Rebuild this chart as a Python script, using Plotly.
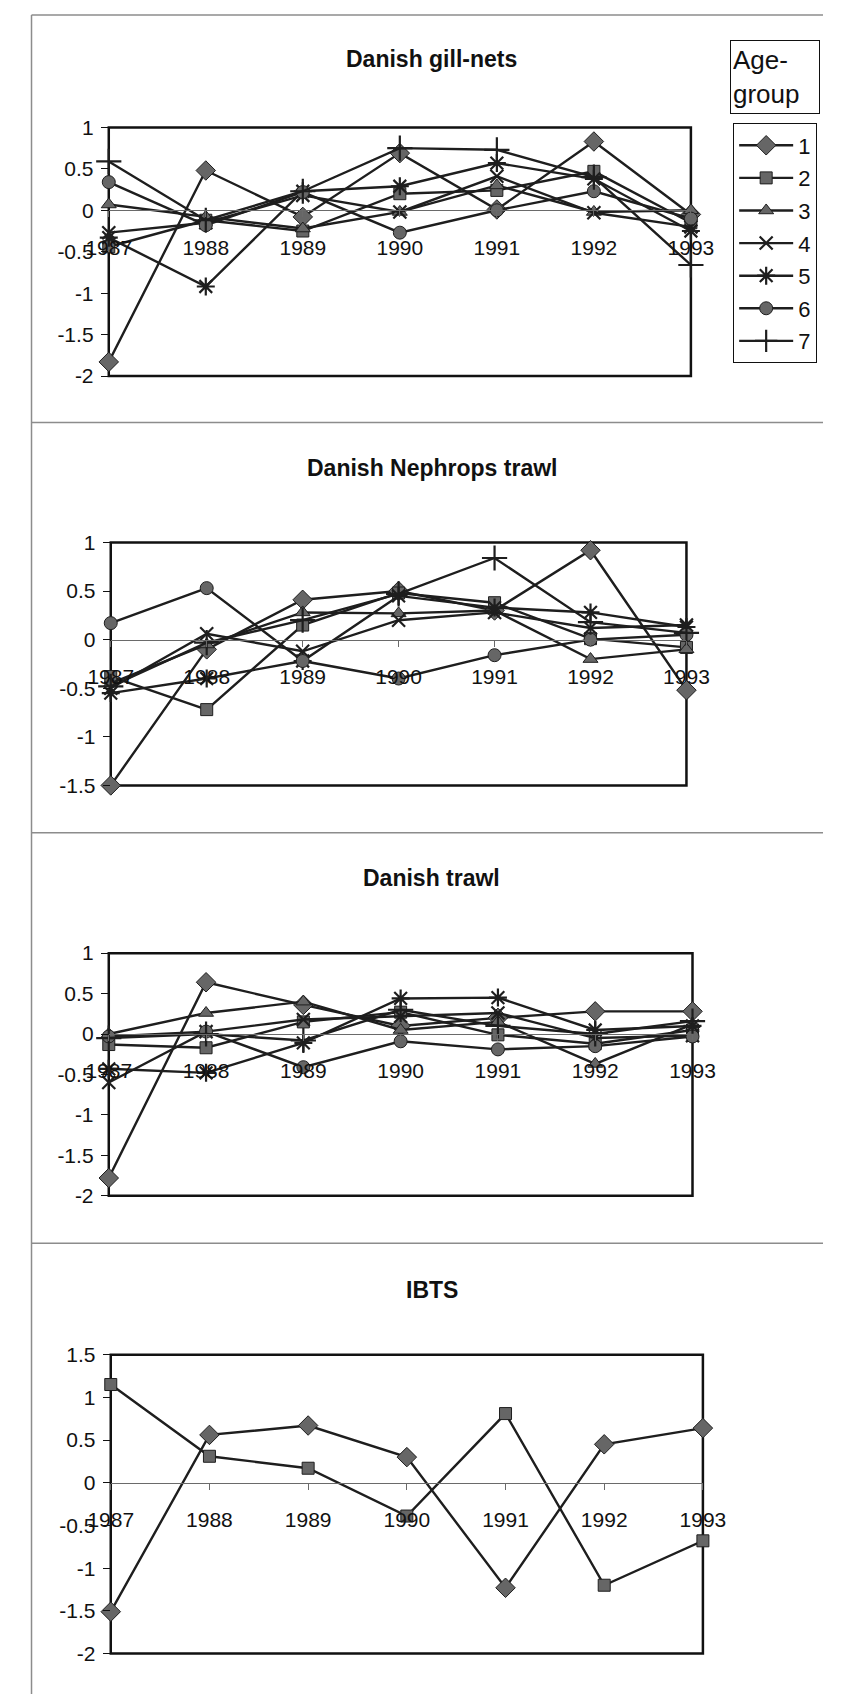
import plotly.graph_objects as go

# ---------------- data ----------------
years = [1987, 1988, 1989, 1990, 1991, 1992, 1993]
age_groups = ["1", "2", "3", "4", "5", "6", "7"]

# Danish gill-nets, log residuals by age group
gill_1 = [-1.83, 0.48, -0.08, 0.69, 0.01, 0.83, -0.05]
gill_2 = [-0.44, -0.12, -0.25, 0.20, 0.24, 0.47, -0.15]
gill_3 = [0.07, -0.08, -0.22, -0.02, 0.30, -0.02, 0.00]
gill_4 = [-0.27, -0.15, 0.18, -0.02, 0.41, -0.03, -0.20]
gill_5 = [-0.33, -0.92, 0.23, 0.29, 0.57, 0.38, -0.25]
gill_6 = [0.34, -0.18, 0.22, -0.27, 0.00, 0.23, -0.10]
gill_7 = [0.59, -0.12, 0.23, 0.75, 0.73, 0.40, -0.66]

# Danish Nephrops trawl
neph_1 = [-1.50, -0.10, 0.41, 0.50, 0.30, 0.92, -0.52]
neph_2 = [-0.38, -0.72, 0.15, 0.48, 0.38, 0.01, -0.08]
neph_3 = [-0.45, -0.05, 0.28, 0.27, 0.30, -0.20, -0.10]
neph_4 = [-0.50, 0.06, -0.12, 0.20, 0.28, 0.12, 0.15]
neph_5 = [-0.55, -0.40, -0.22, 0.45, 0.33, 0.28, 0.13]
neph_6 = [0.17, 0.53, -0.22, -0.40, -0.16, 0.00, 0.05]
neph_7 = [-0.48, -0.03, 0.20, 0.47, 0.84, 0.18, 0.07]

# Danish trawl
trawl_1 = [-1.78, 0.64, 0.36, 0.10, 0.20, 0.28, 0.28]
trawl_2 = [-0.13, -0.17, 0.15, 0.27, -0.01, -0.12, 0.05]
trawl_3 = [0.00, 0.26, 0.40, 0.05, 0.15, -0.37, 0.12]
trawl_4 = [-0.60, 0.03, 0.18, 0.22, 0.26, -0.05, -0.02]
trawl_5 = [-0.43, -0.48, -0.11, 0.44, 0.45, 0.05, 0.10]
trawl_6 = [-0.03, 0.03, -0.41, -0.09, -0.19, -0.15, -0.03]
trawl_7 = [-0.05, 0.00, -0.08, 0.30, 0.10, 0.00, 0.16]

# IBTS
ibts_1 = [-1.51, 0.56, 0.67, 0.30, -1.23, 0.45, 0.64]
ibts_2 = [1.15, 0.31, 0.17, -0.39, 0.81, -1.20, -0.68]

panel_titles = ["Danish gill-nets", "Danish Nephrops trawl", "Danish trawl", "IBTS"]
yticks_gill = [1, 0.5, 0, -0.5, -1, -1.5, -2]
yticks_neph = [1, 0.5, 0, -0.5, -1, -1.5]
yticks_trawl = [1, 0.5, 0, -0.5, -1, -1.5, -2]
yticks_ibts = [1.5, 1, 0.5, 0, -0.5, -1, -1.5, -2]
legend_title = "Age-<br>group"

# ---------------- layout helpers ----------------
W, H = 846, 1705
FONT = "Liberation Sans, Arial, sans-serif"
LINE = "#1e1e1e"
FILL = "#666666"


def xdom(left, right):
    return [left / W, right / W]


def ydom(top, bottom):
    return [1 - bottom / H, 1 - top / H]


def fmt(v):
    return "%g" % v


marker_styles = [
    dict(symbol="diamond", size=15, color=FILL, line=dict(color=LINE, width=1)),
    dict(symbol="square", size=12, color=FILL, line=dict(color=LINE, width=1)),
    dict(symbol="triangle-up", size=13, color=FILL, line=dict(color=LINE, width=1)),
    dict(symbol="x-thin", size=13, color=LINE, line=dict(color=LINE, width=2.2)),
    dict(symbol="asterisk", size=15, color=LINE, line=dict(color=LINE, width=2.2)),
    dict(symbol="circle", size=13, color=FILL, line=dict(color=LINE, width=1)),
    dict(symbol="cross-thin", size=18, color=LINE, line=dict(color=LINE, width=2.2)),
]

panels = [
    dict(series=[gill_1, gill_2, gill_3, gill_4, gill_5, gill_6, gill_7],
         yticks=yticks_gill, x=(90.7, 706.3), y=(117, 369), title_y=48),
    dict(series=[neph_1, neph_2, neph_3, neph_4, neph_5, neph_6, neph_7],
         yticks=yticks_neph, x=(92.8, 701.6), y=(537.7, 784), title_y=462),
    dict(series=[trawl_1, trawl_2, trawl_3, trawl_4, trawl_5, trawl_6, trawl_7],
         yticks=yticks_trawl, x=(90.7, 708), y=(954, 1200), title_y=878),
    dict(series=[ibts_1, ibts_2],
         yticks=yticks_ibts, x=(92.8, 719), y=(1361, 1664), title_y=1295),
]

fig = go.Figure()
shapes = []
annotations = []

for p_idx, panel in enumerate(panels):
    n = p_idx + 1
    sfx = "" if n == 1 else str(n)
    xa, ya = "x" + sfx, "y" + sfx
    for s_idx, values in enumerate(panel["series"]):
        fig.add_trace(go.Scatter(
            x=years, y=values, xaxis=xa, yaxis=ya,
            mode="lines+markers",
            name=age_groups[s_idx],
            legendgroup="g%d_%d" % (n, s_idx),
            showlegend=(n == 1),
            line=dict(color=LINE, width=2.4),
            marker=marker_styles[s_idx],
            cliponaxis=False,
        ))

    ymin, ymax = min(panel["yticks"]), max(panel["yticks"])
    yd = ydom(*panel["y"])
    zero_pos = yd[0] + (0 - ymin) / (ymax - ymin) * (yd[1] - yd[0])

    fig.layout["xaxis" + sfx] = dict(
        domain=xdom(*panel["x"]), range=[years[0], years[-1]],
        anchor="free", position=zero_pos,
        tickvals=years, ticktext=[str(y) for y in years],
        showgrid=False, zeroline=False,
        showline=True, linecolor="#6a6a6a", linewidth=1.2,
        ticks="outside", ticklen=6, tickcolor="#6a6a6a", tickwidth=1,
        ticklabelstandoff=12,
        tickfont=dict(family=FONT, size=21, color="#111"),
    )
    fig.layout["yaxis" + sfx] = dict(
        domain=yd, range=[ymin, ymax], anchor=xa,
        tickvals=panel["yticks"], ticktext=[fmt(v) for v in panel["yticks"]],
        showgrid=False, zeroline=False,
        showline=False,
        ticks="outside", ticklen=7, tickcolor="#111", tickwidth=1,
        ticklabelstandoff=3,
        tickfont=dict(family=FONT, size=21, color="#111"),
    )
    # plot-area frame
    shapes.append(dict(type="rect", xref=xa + " domain", yref=ya + " domain",
                       x0=0, x1=1, y0=0, y1=1,
                       line=dict(color="#111", width=2.5), layer="below"))
    annotations.append(dict(
        text="<b>%s</b>" % panel_titles[p_idx], xref="paper", yref="paper",
        x=432 / W, y=1 - panel["title_y"] / H, xanchor="center", yanchor="middle",
        showarrow=False, font=dict(family=FONT, size=23, color="#111"),
    ))

# chart-area borders around each panel
for yb in [3, 416, 832, 1248]:
    shapes.append(dict(type="line", xref="paper", yref="paper",
                       x0=9 / W, x1=1, y0=1 - yb / H, y1=1 - yb / H,
                       line=dict(color="#8c8c8c", width=1.5)))
shapes.append(dict(type="line", xref="paper", yref="paper",
                   x0=9 / W, x1=9 / W, y0=0, y1=1 - 3 / H,
                   line=dict(color="#8c8c8c", width=1.5)))

# legend title in its own box
annotations.append(dict(
    text=legend_title, xref="paper", yref="paper",
    x=748 / W, y=1 - 28 / H, xanchor="left", yanchor="top", align="left",
    width=84, height=68, valign="middle",
    showarrow=False, bordercolor="#111", borderwidth=1, borderpad=2,
    bgcolor="white", font=dict(family=FONT, size=26, color="#111"),
))

fig.update_layout(
    width=W, height=H, autosize=False,
    margin=dict(l=0, r=0, t=0, b=0),
    paper_bgcolor="white", plot_bgcolor="white",
    shapes=shapes, annotations=annotations,
    legend=dict(
        x=751 / W, y=1 - 113 / H, xanchor="left", yanchor="top",
        bordercolor="#111", borderwidth=1, bgcolor="white",
        font=dict(family=FONT, size=22, color="#111"),
        tracegroupgap=1, itemwidth=54,
    ),
)

fig.write_html("out.html")
